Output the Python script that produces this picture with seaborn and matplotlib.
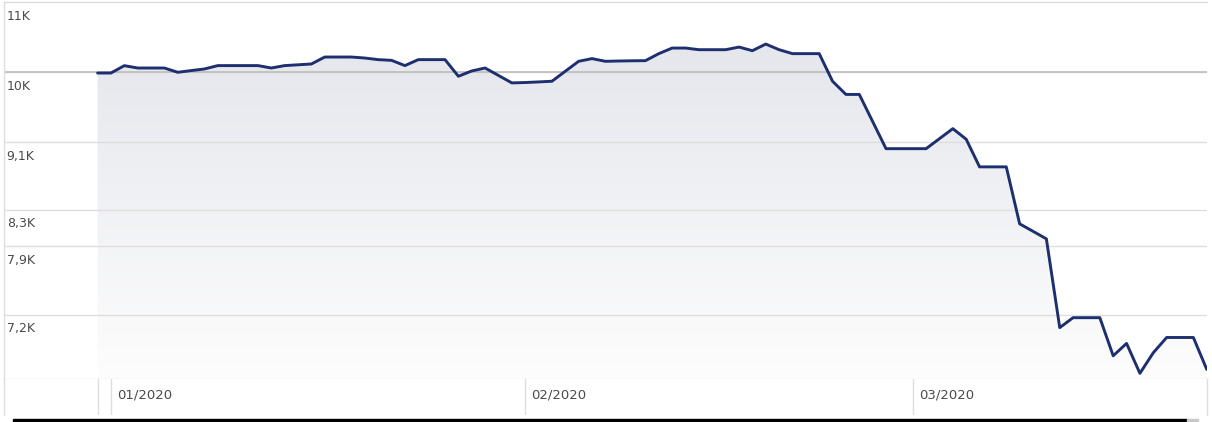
import numpy as np
import pandas as pd
import matplotlib
matplotlib.use("Agg")
import matplotlib.pyplot as plt
import matplotlib.dates as mdates
from matplotlib.patches import Rectangle
from matplotlib.colors import LinearSegmentedColormap
import seaborn as sns

# --- data (daily, weekends carry the last value) ---
start_date = "2019-12-31"
end_date = "2020-03-23"
values = [
    9990, 9990, 10090, 10058, 10058, 10058, 10000, 10023, 10045, 10091,
    10091, 10091, 10091, 10058, 10091, 10102, 10113, 10209, 10209, 10209,
    10195, 10173, 10163, 10091, 10173, 10173, 10173, 9946, 10018, 10058,
    9957, 9857, 9862, 9870, 9879, 10014, 10150, 10187, 10150, 10154,
    10157, 10159, 10256, 10334, 10334, 10311, 10311, 10311, 10348, 10297,
    10390, 10311, 10256, 10256, 10256, 9879, 9704, 9704, 9354, 9016,
    9016, 9016, 9016, 9139, 9264, 9132, 8796, 8796, 8796, 8142,
    8060, 7978, 7073, 7169, 7169, 7169, 6808, 6923, 6648, 6836,
    6979, 6979, 6979, 6684,
]
y_ticks = [11000, 10000, 9100, 8300, 7900, 7200]
y_labels = ["11K", "10K", "9,1K", "8,3K", "7,9K", "7,2K"]
month_starts = ["2020-01-01", "2020-02-01", "2020-03-01"]
month_labels = ["01/2020", "02/2020", "03/2020"]

dates = pd.date_range(start_date, end_date, freq="D")
df = pd.DataFrame({"date": dates, "value": values})

# --- style ---
sns.set_style("white")
plt.rcParams["font.family"] = ["DejaVu Sans"]

W, H = 1212, 422
fig = plt.figure(figsize=(W / 100, H / 100), dpi=100)
ax = fig.add_axes([3.5 / W, (H - 379) / H, (1207 - 3.5) / W, 377 / H])
strip = fig.add_axes([3.5 / W, (H - 415) / H, (1207 - 3.5) / W, 36 / H], sharex=ax)

line_color = "#1d2f6e"
grid_color = "#dedede"
text_color = "#4a4a4a"

ymin, ymax = 6597, 11000
d0 = mdates.date2num(pd.Timestamp(start_date))
xmin, xmax = d0 - 7.04, d0 + 83.02

ax.set_yscale("log")

# gradient area under the line
poly = ax.fill_between(df["date"], df["value"], ymin, facecolor="none", edgecolor="none")
cmap = LinearSegmentedColormap.from_list("fade", ["#e2e4eb", "#fdfdfd"])
grad = np.linspace(0, 1, 256).reshape(-1, 1)
img = ax.imshow(grad, cmap=cmap, aspect="auto", extent=(0, 1, 0, 1),
                transform=ax.transAxes, origin="upper", zorder=1)
img.set_clip_path(poly.get_paths()[0], transform=ax.transData)

# gridlines (drawn over the fill) and the reference line at 10K
for t in y_ticks[1:]:
    ax.axhline(t, color=grid_color, lw=1, zorder=2)
ax.axhline(10000, color="#bdbdbd", lw=1.2, zorder=2.1)

sns.lineplot(data=df, x="date", y="value", ax=ax, color=line_color,
             linewidth=2.1, zorder=3)

ax.set_xlim(xmin, xmax)
ax.set_ylim(ymin, ymax)
ax.set_autoscale_on(False)
ax.set_xlabel("")
ax.set_ylabel("")
ax.set_xticks([])
ax.set_yticks([])
ax.yaxis.set_minor_locator(matplotlib.ticker.NullLocator())

ax.spines["right"].set_visible(False)
for side in ["top", "bottom", "left"]:
    ax.spines[side].set_color(grid_color)
    ax.spines[side].set_linewidth(1)

# y labels sit inside the plot, just under their gridline
for t, lab in zip(y_ticks, y_labels):
    ax.annotate(lab, xy=(0, t), xycoords=("axes fraction", "data"),
                xytext=(2.3, -5.6), textcoords="offset points",
                ha="left", va="top", fontsize=9, color=text_color,
                annotation_clip=False)

# --- bottom strip with month separators ---
strip.set_ylim(0, 1)
strip.axvline(d0, color=grid_color, lw=1)
for m, lab in zip(month_starts, month_labels):
    xm = mdates.date2num(pd.Timestamp(m))
    strip.axvline(xm, color=grid_color, lw=1)
    strip.annotate(lab, xy=(xm, 0.55), xycoords="data",
                   xytext=(4.6, 0), textcoords="offset points",
                   ha="left", va="center", fontsize=9.5, color=text_color)
strip.set_xticks([])
strip.set_yticks([])
strip.set_xlabel("")
for side in ["top", "bottom"]:
    strip.spines[side].set_visible(False)
for side in ["left", "right"]:
    strip.spines[side].set_color(grid_color)
    strip.spines[side].set_linewidth(1)
strip.set_facecolor("white")

# scrollbar-like bar at the very bottom
fig.patches.append(Rectangle((13 / W, 0), (1187 - 13) / W, 3 / H,
                             transform=fig.transFigure, color="black"))
fig.patches.append(Rectangle((1187 / W, 0), 11 / W, 3 / H,
                             transform=fig.transFigure, color="#c8c8c8"))

fig.savefig("out.png", dpi=100)
